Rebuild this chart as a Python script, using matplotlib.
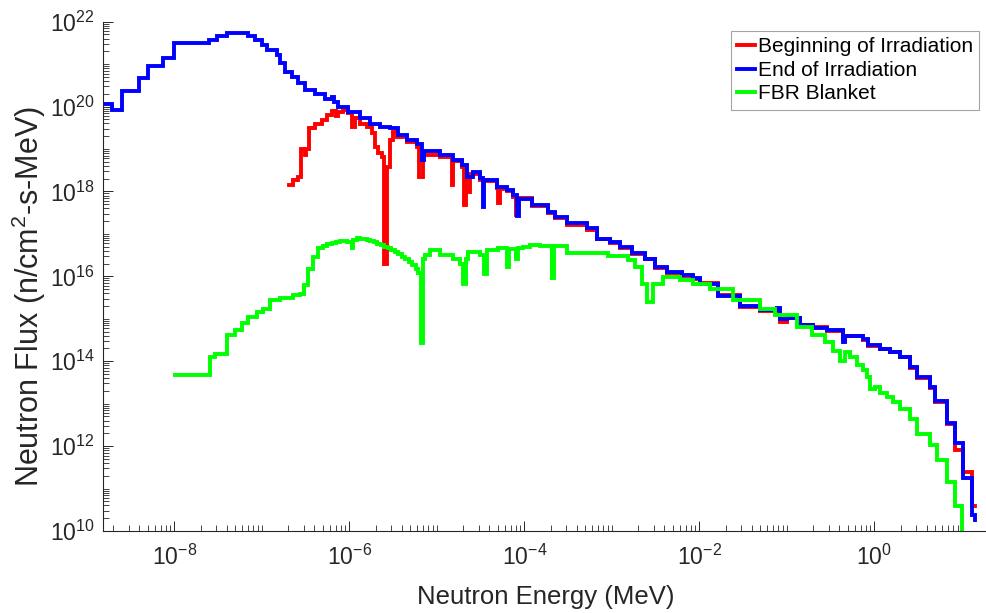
import numpy as np
import matplotlib
matplotlib.use("Agg")
import matplotlib.pyplot as plt
from matplotlib.ticker import FixedLocator, NullFormatter, LogFormatterSciNotation

plt.rcParams['font.family'] = ['Liberation Sans', 'DejaVu Sans']
plt.rcParams['mathtext.fontset'] = 'custom'
plt.rcParams['mathtext.rm'] = 'Liberation Sans'
plt.rcParams['mathtext.it'] = 'Liberation Sans:italic'
plt.rcParams['mathtext.bf'] = 'Liberation Sans:bold'

# ---------------- data (log10 of energy in MeV, log10 of flux) ----------------
end_logE = [-8.815, -8.715, -8.601, -8.400, -8.297, -8.126, -8.000, -7.600, -7.515, -7.394,
            -7.306, -7.154, -7.078, -7.001, -6.944, -6.830, -6.792, -6.735, -6.658, -6.583,
            -6.506, -6.392, -6.278, -6.201, -6.195, -6.180, -6.126, -6.011, -5.878, -5.763,
            -5.649, -5.535, -5.440, -5.344, -5.230, -5.173, -5.150, -4.963, -4.811, -4.715,
            -4.658, -4.583, -4.506, -4.475, -4.455, -4.315, -4.201, -4.126, -4.087, -4.065,
            -3.915, -3.726, -3.649, -3.515, -3.287, -3.173, -3.021, -2.906, -2.773, -2.621,
            -2.506, -2.373, -2.201, -2.069, -1.992, -1.786, -1.535, -1.306, -1.115, -1.078,
            -1.001, -0.849, -0.701, -0.544, -0.358, -0.330, -0.129, -0.072, 0.065, 0.179,
            0.294, 0.408, 0.485, 0.637, 0.694, 0.827, 0.922, 1.017, 1.113, 1.151]
end_logF = [20.06, 19.92, 20.36, 20.68, 20.96, 21.15, 21.49, 21.58, 21.66, 21.74,
            21.73, 21.66, 21.58, 21.45, 21.33, 21.21, 21.02, 20.82, 20.69, 20.55,
            20.39, 20.29, 20.19, 20.14, 20.23, 20.10, 19.99, 19.88, 19.72, 19.60,
            19.52, 19.49, 19.33, 19.21, 19.13, 18.74, 18.95, 18.86, 18.74, 18.62,
            18.34, 18.46, 18.31, 17.64, 18.27, 18.11, 18.03, 17.91, 17.42, 17.83,
            17.68, 17.52, 17.40, 17.25, 17.13, 16.89, 16.81, 16.69, 16.54, 16.42,
            16.22, 16.10, 16.03, 15.95, 15.83, 15.54, 15.29, 15.20, 15.25, 15.00,
            15.03, 14.85, 14.79, 14.73, 14.45, 14.59, 14.53, 14.38, 14.30, 14.22,
            14.10, 13.86, 13.63, 13.39, 13.06, 12.54, 12.07, 11.25, 10.37, 10.27]

beg_logE = [-6.686, -6.640, -6.583, -6.552, -6.506, -6.495, -6.457, -6.392, -6.315, -6.258,
            -6.201, -6.152, -6.126, -6.069, -6.011, -5.973, -5.935, -5.878, -5.801, -5.744,
            -5.706, -5.669, -5.630, -5.598, -5.569, -5.535, -5.501, -5.458, -5.344, -5.230,
            -5.198, -5.163, -4.963, -4.830, -4.811, -4.715, -4.688, -4.666, -4.640, -4.621,
            -4.506, -4.411, -4.315, -4.297, -4.278, -4.201, -4.126, -4.095, -4.072, -3.915,
            -3.726, -3.649, -3.515, -3.287, -3.173, -3.021, -2.906, -2.773, -2.621, -2.506,
            -2.373, -2.201, -2.069, -1.992, -1.786, -1.535, -1.306, -1.115, -1.078, -1.001,
            -0.849, -0.701, -0.544, -0.358, -0.330, -0.129, -0.072, 0.065, 0.179, 0.294,
            0.408, 0.485, 0.637, 0.694, 0.827, 0.922, 1.017, 1.113, 1.151]
beg_logF = [18.15, 18.27, 18.35, 19.01, 18.86, 19.01, 19.49, 19.60, 19.68, 19.80,
            19.90, 19.78, 19.88, 19.92, 19.84, 19.51, 19.72, 19.60, 19.52, 19.37,
            19.05, 18.90, 18.82, 16.30, 18.58, 19.21, 19.40, 19.28, 19.17, 19.05,
            18.34, 18.86, 18.82, 18.15, 18.72, 18.58, 17.68, 18.30, 17.99, 18.40,
            18.28, 18.24, 18.08, 17.72, 18.06, 18.00, 17.88, 17.44, 17.85, 17.66,
            17.50, 17.37, 17.22, 17.10, 16.87, 16.78, 16.66, 16.52, 16.40, 16.20,
            16.08, 16.01, 15.93, 15.85, 15.56, 15.27, 15.18, 15.22, 14.93, 15.02,
            14.86, 14.80, 14.72, 14.52, 14.60, 14.50, 14.36, 14.28, 14.21, 14.09,
            13.84, 13.61, 13.37, 13.04, 12.52, 11.90, 11.39, 10.60, 10.60]

fbr_logE = [-7.992, -7.592, -7.535, -7.401, -7.306, -7.230, -7.154, -7.058, -6.983, -6.906,
            -6.792, -6.640, -6.563, -6.518, -6.469, -6.411, -6.354, -6.300, -6.258, -6.200,
            -6.150, -6.106, -6.030, -5.973, -5.952, -5.915, -5.880, -5.840, -5.800, -5.760,
            -5.720, -5.680, -5.640, -5.600, -5.560, -5.520, -5.480, -5.440, -5.400, -5.360,
            -5.320, -5.280, -5.240, -5.211, -5.181, -5.152, -5.135, -5.078, -4.963, -4.811,
            -4.735, -4.701, -4.666, -4.640, -4.506, -4.461, -4.426, -4.297, -4.198, -4.175,
            -4.095, -4.072, -4.011, -3.935, -3.821, -3.678, -3.655, -3.515, -3.173, -3.040,
            -2.811, -2.735, -2.658, -2.601, -2.526, -2.411, -2.221, -2.069, -1.878, -1.611,
            -1.306, -1.135, -0.887, -0.715, -0.563, -0.469, -0.392, -0.335, -0.278, -0.201,
            -0.126, -0.087, -0.049, 0.008, 0.065, 0.142, 0.217, 0.294, 0.408, 0.485,
            0.637, 0.713, 0.827, 0.922, 1.002, 1.050]
fbr_logF = [13.68, 14.10, 14.18, 14.61, 14.73, 14.89, 15.04, 15.15, 15.24, 15.44,
            15.49, 15.55, 15.59, 15.79, 16.18, 16.46, 16.66, 16.72, 16.77, 16.79,
            16.82, 16.83, 16.81, 16.66, 16.86, 16.90, 16.89, 16.87, 16.85, 16.83,
            16.80, 16.77, 16.73, 16.69, 16.66, 16.62, 16.57, 16.52, 16.46, 16.40,
            16.34, 16.26, 16.18, 16.07, 14.42, 16.40, 16.50, 16.62, 16.50, 16.42,
            16.30, 15.83, 16.40, 16.58, 16.50, 16.05, 16.62, 16.66, 16.22, 16.64,
            16.42, 16.66, 16.69, 16.73, 16.71, 15.95, 16.71, 16.54, 16.54, 16.47,
            16.38, 16.22, 15.83, 15.40, 15.81, 15.99, 15.91, 15.83, 15.71, 15.45,
            15.24, 15.08, 14.81, 14.61, 14.45, 14.24, 14.00, 14.22, 14.10, 13.90,
            13.79, 13.63, 13.35, 13.39, 13.24, 13.15, 13.04, 12.88, 12.65, 12.29,
            12.02, 11.68, 11.15, 10.60, 9.00, 9.00]

labels = ['Beginning of Irradiation', 'End of Irradiation', 'FBR Blanket']
colors = ['#ff0000', '#0000ff', '#00ff00']

x_major_exp = [-8, -6, -4, -2, 0]
y_major_exp = [10, 12, 14, 16, 18, 20, 22]

# ---------------- figure ----------------
W, H = 987, 613
fig = plt.figure(figsize=(W / 100, H / 100), dpi=100)
ax_left, ax_right, ax_top, ax_bottom = 103, 988, 21.7, 531
ax = fig.add_axes([ax_left / W, (H - ax_bottom) / H,
                   (ax_right - ax_left) / W, (ax_bottom - ax_top) / H])

series = [(beg_logE, beg_logF), (end_logE, end_logF), (fbr_logE, fbr_logF)]
for (le, lf), lab, c in zip(series, labels, colors):
    ax.step(10 ** np.array(le), 10 ** np.array(lf), where='post', color=c,
            lw=2.8, label=lab, solid_joinstyle='miter')

ax.set_xscale('log')
ax.set_yscale('log')
ax.set_xlim(10 ** -8.815, 10 ** 1.30)
ax.set_ylim(1e10, 1e22)

ax.xaxis.set_major_locator(FixedLocator([10.0 ** e for e in x_major_exp]))
ax.yaxis.set_major_locator(FixedLocator([10.0 ** e for e in y_major_exp]))
xmin_ticks = [m * 10.0 ** k for k in range(-9, 2) for m in range(1, 10)
              if not (m == 1 and k in x_major_exp)]
ymin_ticks = [m * 10.0 ** k for k in range(10, 22) for m in range(1, 10)
              if not (m == 1 and k in y_major_exp)]
ax.xaxis.set_minor_locator(FixedLocator(xmin_ticks))
ax.yaxis.set_minor_locator(FixedLocator(ymin_ticks))
ax.xaxis.set_major_formatter(LogFormatterSciNotation())
ax.yaxis.set_major_formatter(LogFormatterSciNotation())
ax.xaxis.set_minor_formatter(NullFormatter())
ax.yaxis.set_minor_formatter(NullFormatter())

gray = '#262626'
for s in ['top', 'right']:
    ax.spines[s].set_visible(False)
for s in ['left', 'bottom']:
    ax.spines[s].set_color(gray)
    ax.spines[s].set_linewidth(0.8)
ax.tick_params(which='major', direction='in', length=7, width=0.7, colors=gray,
               labelsize=16.5)
ax.tick_params(which='minor', direction='in', length=4, width=0.6, colors=gray)
ax.tick_params(axis='x', which='major', pad=10)
ax.tick_params(axis='y', which='major', pad=6)

ax.set_xlabel('Neutron Energy (MeV)', fontsize=18.5, color=gray)
ax.xaxis.set_label_coords(0.5, -(597 - ax_bottom) / (ax_bottom - ax_top))
ax.xaxis.label.set_va('center')
ax.set_ylabel('Neutron Flux (n/cm$^2$-s-MeV)', fontsize=22, color=gray)
ax.yaxis.set_label_coords(-(103 - 29) / (ax_right - ax_left),
                          (ax_bottom - 297) / (ax_bottom - ax_top))
ax.yaxis.label.set_va('center')

leg = ax.legend(loc='upper right', bbox_to_anchor=(979 / W, (H - 31) / H),
                bbox_transform=fig.transFigure, fontsize=15, frameon=True,
                fancybox=False, handlelength=0.85, handletextpad=0.12,
                borderpad=0.3, labelspacing=0.22, borderaxespad=0)
leg.get_frame().set_edgecolor('#8c8c8c')
leg.get_frame().set_linewidth(0.8)

fig.savefig('out.png', dpi=100)
